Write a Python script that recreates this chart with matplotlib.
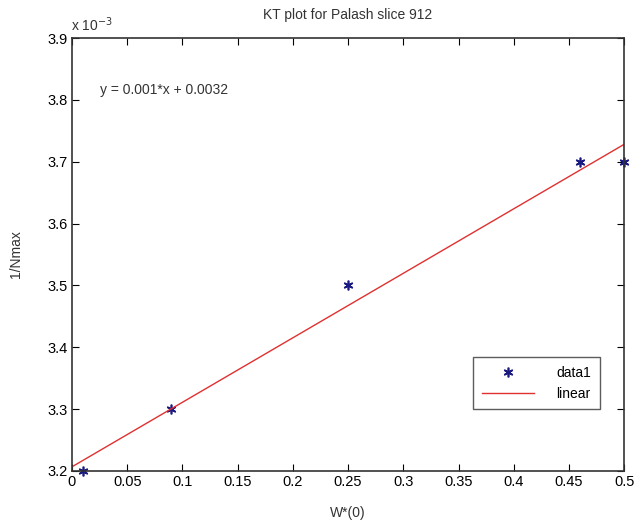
import matplotlib
matplotlib.use("Agg")
import matplotlib.pyplot as plt
import numpy as np

plt.rcParams['font.family'] = ['Liberation Sans', 'DejaVu Sans']

# KT data
w0 = [0.01, 0.09, 0.25, 0.46, 0.50]
inv_nmax = [3.2e-3, 3.3e-3, 3.5e-3, 3.7e-3, 3.7e-3]
xticks = [0, 0.05, 0.1, 0.15, 0.2, 0.25, 0.3, 0.35, 0.4, 0.45, 0.5]
yticks = [3.2, 3.3, 3.4, 3.5, 3.6, 3.7, 3.8, 3.9]

slope, icpt = np.polyfit(w0, inv_nmax, 1)
xfit = np.array([0.0, 0.5])

fig = plt.figure(figsize=(6.37, 5.28), dpi=100)
ax = fig.add_axes([0.113, 0.108, 0.867, 0.820])

ax.plot(w0, inv_nmax, linestyle='none', marker=(6, 2, 0), color='#1a1a80', markersize=7,
        markeredgewidth=1.2, label='data1', clip_on=False)
ax.plot(xfit, slope * xfit + icpt, color='#e03030', lw=1, label='linear')

ax.set_xlim(0, 0.5)
ax.set_ylim(3.2e-3, 3.9e-3)
ax.set_xticks(xticks)
ax.set_xticklabels(['0', '0.05', '0.1', '0.15', '0.2', '0.25', '0.3', '0.35', '0.4', '0.45', '0.5'])
ax.set_yticks([v * 1e-3 for v in yticks])
ax.set_yticklabels(['%.1f' % v for v in yticks])
ax.tick_params(direction='in', top=True, right=True, labelsize=10.5, length=5, pad=3)
for s in ax.spines.values():
    s.set_linewidth(1.2)
    s.set_color('#333333')

ax.text(-0.002, 1.01, r'x 10$^{-3}$', transform=ax.transAxes, fontsize=10, ha='left', va='bottom', color='#333333')
ax.set_title('KT plot for Palash slice 912', fontsize=10, pad=14, color='#333333')
ax.set_xlabel('W*(0)', fontsize=10, color='#333333', labelpad=12)
ax.set_ylabel('1/Nmax', fontsize=10, color='#333333', labelpad=18)

ax.text(0.025, 3.816e-3, 'y = 0.001*x + 0.0032', fontsize=10, color='#333333', va='center')

leg = ax.legend(loc='lower right', bbox_to_anchor=(0.968, 0.127), fontsize=10, frameon=True,
                fancybox=False, edgecolor='#333333', borderpad=0.6, handlelength=3.8,
                handletextpad=1.6, labelspacing=0.5)
leg.get_frame().set_linewidth(1.0)

fig.savefig('out.png', dpi=100)
